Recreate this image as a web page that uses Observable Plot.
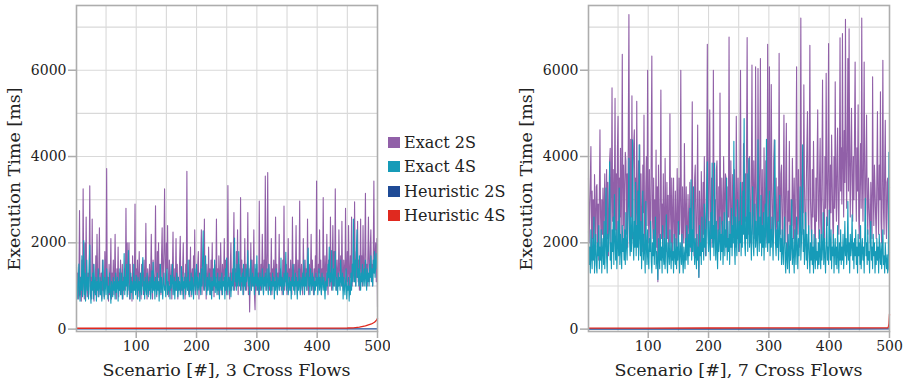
<!DOCTYPE html>
<html>
<head>
<meta charset="utf-8">
<script src="https://cdn.jsdelivr.net/npm/d3@7"></script>
<script src="https://cdn.jsdelivr.net/npm/@observablehq/plot@0.6"></script>
<style>
  html, body { margin: 0; padding: 0; background: #fff; }
  #wrap { position: relative; width: 905px; height: 385px; overflow: hidden; font-family: "DejaVu Serif", serif; color: #222; }
  #left, #right { position: absolute; top: 0; }
  #left { left: 0; }
  #right { left: 512px; }
  #legend { position: absolute; left: 388px; top: 130px; font-size: 16px; }
  .row { display: flex; align-items: center; height: 24.5px; }
  .sw { width: 12px; height: 11px; margin-right: 4px; }
</style>
</head>
<body>
<div id="wrap">
  <div id="left"></div>
  <div id="legend"></div>
  <div id="right"></div>
</div>
<script>
// ---- categories / labels ----
const seriesNames = ["Exact 2S", "Exact 4S", "Heuristic 2S", "Heuristic 4S"];
const seriesColors = ["#9160a8", "#169bb8", "#1f4b96", "#e0291f"];
const xTicks = [100, 200, 300, 400, 500];
const xGridLines = [50, 100, 150, 200, 250, 300, 350, 400, 450];
const yTicks = [0, 2000, 4000, 6000];
const yGridLines = [1000, 2000, 3000, 4000, 5000, 6000, 7000];
const yLabel = "Execution Time [ms]";
const xLabelLeft = "Scenario [#], 3 Cross Flows";
const xLabelRight = "Scenario [#], 7 Cross Flows";
const FONT = "'DejaVu Serif', serif";

// ---- left panel (3 cross flows), scenario 1..500, ms ----
const leftExact2S = [
1500,900,1300,700,1100,2750,800,1200,650,1600,900,3250,1100,700,2000,850,2600,1000,750,1300,
900,1400,3320,800,1200,700,2550,1000,1500,650,1100,850,1700,900,2200,1200,750,1400,2350,800,
1000,1300,700,1600,900,1100,750,1800,1000,1400,3720,900,1200,650,1500,800,1100,2100,700,1300,
1000,1600,800,1200,2200,900,700,1400,1000,1900,750,1300,900,1600,1100,800,1500,700,1200,1000,
1400,900,2800,1100,2000,800,1300,2000,700,1500,1000,1200,650,1700,900,1300,1100,2900,800,1400,
1000,1600,750,1200,1800,900,1100,700,1500,1000,1300,800,1600,900,1200,2450,1000,700,1400,1100,
900,1500,800,1300,2200,1000,700,1600,1100,900,1400,2860,1000,750,1800,1200,2000,900,1500,1100,
800,1700,2350,1000,1300,1900,3250,1200,900,2000,1400,2400,1000,750,1600,1100,900,1500,700,1300,
2250,1000,800,1400,1100,2100,900,1500,700,1200,1000,1600,2150,900,1300,800,1400,2000,1000,1200,
700,1500,1100,3660,900,1300,800,1600,1000,1900,750,1200,1400,900,1700,1000,2300,800,1300,1100,
900,1500,1800,700,1200,1000,1600,2300,800,1400,1100,900,2550,1000,1300,700,1500,1100,900,1900,
1000,1400,800,1600,1100,2000,900,1300,750,1500,1000,1200,2550,900,1400,800,1700,1100,900,2000,
1200,800,1500,1000,1300,2100,900,1600,1100,800,1400,3330,1000,1200,700,1500,2000,900,1300,1100,
1600,2700,900,1400,1000,1800,1200,2300,800,1500,1100,1300,3050,900,1600,1000,1400,800,1200,2100,
1000,1500,900,1300,2700,800,1400,400,1100,2000,900,1600,1000,1200,2300,800,450,1400,900,1500,
1000,1300,800,2970,1200,900,1500,1000,2200,1400,800,1600,1100,3550,1300,900,1800,3630,1000,1500,
900,1300,1100,2100,800,1400,1000,1600,900,1200,2600,1000,1500,800,1300,1100,2200,900,1400,1000,
1200,800,1600,1000,2850,900,1300,1100,1500,800,1200,2100,1000,1400,900,1600,1100,800,2600,1200,
1000,1500,900,1300,2400,1100,800,1600,1000,1400,2970,900,1200,1500,1000,800,2100,1300,900,1600,
1100,1400,900,2550,1200,800,1500,1000,1300,2200,900,1600,1100,800,1400,1000,1700,1200,3430,1100,
900,1500,1300,2300,1000,1600,800,1400,1100,3050,1200,900,1700,1000,1400,2200,1100,800,1600,1300,
1000,2600,1200,900,1500,2400,1100,1800,1000,3250,1300,900,1600,1200,1000,2300,1400,1100,1700,1000,
2500,1200,900,1600,1300,1000,2800,1400,1100,1800,1000,2400,1300,900,1700,1200,2600,1000,1500,1300,
1100,2950,1400,1000,1800,1200,2500,1100,1600,900,1400,2550,1200,1700,1000,2400,1300,1100,1800,3150,
1200,1500,1000,1700,2600,1300,1100,1900,2300,1200,1500,1000,1800,3430,1300,1600,2000,1100,2100,500
];
const leftExact4S = [
1450,900,700,1100,1510,800,650,1200,900,1700,750,1100,2050,800,1300,650,1000,1600,900,1200,
700,1400,1950,850,600,1100,900,1300,700,1500,1000,800,1200,650,1100,900,1400,750,1000,1200,
800,1100,650,1300,1600,900,700,1200,1000,800,1400,1100,700,1000,850,1300,900,600,1100,1000,
750,1200,900,1100,700,1300,850,1000,1200,650,1100,900,1400,800,1000,1300,700,1100,900,1750,
800,1200,1000,1500,750,1100,1820,900,1000,700,1300,850,1100,950,700,1500,900,1100,800,1250,
1000,700,1200,900,1100,650,1300,1000,800,1400,1660,900,1100,700,1200,950,800,1300,1000,750,
1100,900,1200,700,1000,1350,850,1550,900,1100,700,1200,1000,800,1300,900,1100,650,1000,1500,
850,1200,950,700,1100,1300,900,1000,750,1200,1400,800,1100,900,1000,700,1250,950,1100,1500,
800,1000,1200,700,1100,900,1300,1000,750,1200,900,1100,800,1000,1450,900,1200,700,1100,950,
1300,800,1000,1200,900,1600,1000,750,1100,900,1300,800,1200,1000,700,1100,1400,900,1100,1500,
800,1200,1000,900,1300,1100,800,1400,1000,1600,2280,1200,900,1300,1700,1000,800,1200,900,1100,
1300,800,1000,1200,700,1100,900,1400,1000,1600,850,1200,1000,800,1300,900,1100,700,1200,1000,
900,1300,800,1100,1000,1200,700,1400,900,1650,1000,800,1200,1100,900,1300,750,1100,1000,1400,
900,1700,2110,1100,1300,900,1500,1000,1200,1800,1000,1400,900,1200,1100,1300,800,1500,1000,1200,
900,1400,1100,1300,1820,1000,1200,800,1400,1600,900,1100,1300,1000,1200,800,1500,1100,1000,1700,
900,1200,1100,800,1300,1000,1200,900,1400,1100,800,1200,1000,1300,900,1100,1400,1000,800,1500,
1000,1200,800,1100,900,1300,1000,1200,700,1100,900,1400,1000,800,1200,1100,900,1300,1000,1650,
900,1200,1100,800,1300,1000,1200,1780,900,1100,1300,800,1000,1200,900,1100,700,1200,1000,1500,
900,1100,800,1300,1000,1200,700,1100,900,1400,1000,800,1200,1100,900,1300,1000,1600,800,1200,
1000,1300,900,1500,1880,1000,1200,800,1400,1100,900,1300,1000,1200,800,1100,900,1300,1000,1200,
800,1100,1400,900,1200,1000,800,1300,1100,900,1200,1000,700,1100,900,1300,1000,1500,1200,1900,
1000,1300,1100,1820,1200,900,1400,1000,1300,1800,900,1200,1100,800,1300,1000,1200,900,1600,1100,
1000,1300,700,1200,1000,800,1100,1400,700,1000,900,1200,650,1000,800,1300,900,1500,1100,2550,
1400,1100,1600,1000,1800,2300,1200,1400,1000,1700,1200,900,1300,1100,1500,1000,1200,1400,1000,1600,
1200,900,1400,1100,1300,1000,1500,1200,1700,1100,1400,1000,1600,1300,1800,1200,1500,1750,1400,1600
];
const leftHeur2SX = [1, 100, 200, 300, 400, 500];
const leftHeur2S = [4, 4, 4, 4, 4, 5];
const leftHeur4SX = [1, 100, 200, 300, 400, 450, 460, 470, 480, 490, 495, 498, 500];
const leftHeur4S = [20, 20, 22, 22, 24, 26, 30, 45, 75, 120, 160, 200, 250];

// ---- right panel (7 cross flows), scenario 1..500, ms ----
const rightExact2S = [
3500,2000,2800,3420,4230,1600,3200,2100,3000,1700,3580,2600,1900,3300,3350,2000,2900,1600,3100,4620,
2600,1900,3000,2200,3270,1800,2900,3600,2000,2800,3700,2100,3400,1700,2500,3900,4190,2000,3100,5590,
2500,3700,2000,3300,5350,2300,3600,1900,4200,4930,2200,3500,2600,4190,2000,3400,6370,2400,3800,1800,
3300,4100,3900,2200,3600,1900,4500,7290,3000,2300,4400,2600,5410,2100,3700,4300,4620,2400,3500,2200,
5280,2700,2000,3900,3000,4270,2100,3600,2500,1800,3800,2700,4960,2200,1900,3300,4000,2400,6000,3000,
2000,3700,2500,1800,4200,6330,2600,2100,3500,1700,3000,2200,4150,1900,3300,1100,3800,2400,1800,3100,
5540,2100,2900,1700,3600,2300,1900,3960,2600,1800,3400,2100,3100,1700,2500,4990,2700,2000,3500,1800,
2600,3500,2100,1700,3200,2300,1900,3720,2600,1800,3500,2200,3000,6000,2400,1700,3300,2300,2000,4300,
2700,1900,3300,2200,1700,3120,2500,2000,3400,2300,1800,3000,5270,2100,2800,1700,3500,3800,2300,1800,
3000,4730,2200,1200,3200,2400,1900,3650,2600,1800,3400,2200,4000,2700,1700,2500,3600,6600,2800,2000,
3800,5080,2600,1900,3500,2300,2000,6000,3200,2200,3000,1900,3700,3900,2500,1800,3300,2300,5470,2800,
2100,3500,2500,1900,4000,3000,2200,3600,3500,2300,1800,3300,2600,6770,3000,2100,3900,2500,1900,3580,
2800,2200,3700,2400,1900,4930,3000,2100,3500,2500,1800,3800,6000,2800,2200,3400,2400,4300,3000,2100,
3600,2500,4200,6760,3100,2200,3900,4000,2700,2000,3500,6120,3000,2200,3900,2700,2100,6080,3400,2500,
2000,6040,3200,2400,4000,6270,2800,2100,3700,2500,1900,4200,3000,2200,3900,2600,2000,6600,3200,2400,
6080,2800,2100,5670,3400,2500,2000,3900,4390,2600,2100,3500,2400,1900,3300,2500,6390,3000,2200,3600,
3800,2400,1800,3300,4960,2600,2000,3500,4770,2400,1700,3200,2500,4350,2200,1600,3000,2400,3960,3000,
2100,3500,2500,1800,3800,6080,2800,2200,3700,2600,1900,3400,7210,3000,2200,3900,2700,5660,3400,2400,
2000,3300,4200,5040,2800,2200,3900,6580,3000,2400,1900,3700,2600,4350,3200,2200,1700,3500,2500,3900,
5080,2800,2100,3500,4420,2500,2000,3800,5770,3000,2400,1900,4000,2800,5930,3400,2400,3700,6620,3000,
2200,3800,2700,4500,3500,2400,2000,4000,2800,5730,3300,2500,3900,4660,2800,2200,3700,6750,3200,4200,
2900,6850,3800,2600,4600,3400,7180,3900,2800,4400,6270,3200,6960,3800,2600,4100,5120,3400,2500,4000,
3000,4500,6190,3600,2500,4200,3200,5200,2600,2100,3700,4300,2800,7210,3500,2500,4000,6190,3200,2400,
3800,4960,2800,2200,3500,2960,2500,2000,3400,2700,2100,5850,3200,2400,3800,3270,2600,2100,3500,5040,
2900,2200,3800,3000,5500,2500,2000,3500,6230,2800,2200,3700,4840,2600,2100,3400,3500,2500,1800,3300
];
const rightExact4S = [
2270,1500,1900,1300,2300,1700,1400,2100,1600,2600,1300,1800,2200,1500,1300,2000,1700,2400,1400,1900,
1600,2300,1300,1800,2100,1500,2500,1400,1900,3270,1700,1300,2200,1800,2400,3880,1600,2000,1400,2300,
1800,2600,1500,3120,2100,1600,2300,1400,1900,2500,1700,3270,1500,2200,1900,1400,2400,1800,2100,1600,
2300,1500,2700,1900,1600,2400,3000,3960,2100,1700,2600,1800,2200,4390,2000,1600,2500,1900,3400,1700,
2400,1900,3200,1600,4270,2100,1700,2500,1400,2000,3200,1600,2200,1800,1300,2960,1900,1500,2300,1700,
1400,2100,1800,2500,1600,1300,2000,1700,2300,1500,1900,2600,1400,1800,1600,1150,2100,1700,1400,2200,
1600,1900,1300,2400,1700,1500,2100,1400,1900,2650,1600,1300,2000,1800,1500,2300,1700,1400,2000,1600,
1800,1300,2200,1700,1500,2100,1400,1900,1600,2500,1700,1300,2000,1800,1500,2200,1600,1300,1900,1700,
1400,2100,1600,2400,1800,1500,2200,1700,2800,1900,3460,1600,2300,1800,3300,2000,1500,2100,1700,1400,
2200,1600,1900,1200,2400,1700,2000,1500,2600,1800,2100,1600,2900,1900,2300,1700,3200,3880,2200,1800,
2500,2000,1600,2700,2100,3850,1900,2400,1700,3850,2100,1600,2500,1900,1400,2300,1800,2100,2600,1600,
2200,1800,2500,1500,2000,2700,1700,2300,1900,3500,1600,2100,1800,2500,1500,2200,1900,2800,1700,2400,
2000,4350,1900,1500,2600,2100,1700,3000,2300,1800,2500,2000,3400,1700,2400,1900,3200,2200,4880,2000,
1700,2600,2100,3600,1800,2400,3960,1900,2700,2200,1600,2500,3300,2000,1700,2300,2900,1900,2500,2100,
1700,4390,2200,1800,2600,2000,3100,1700,2400,1900,2700,1600,2200,2900,1900,4400,2300,1800,2600,2000,
3200,1700,2300,1900,2600,2100,1600,2400,2900,4380,2000,1700,2300,1900,2500,1600,2200,3100,1800,2100,
1500,2300,1800,1500,2100,2600,1600,1300,2000,1700,1400,2200,1800,1300,2400,1600,1900,3000,1500,2100,
1700,1300,2300,1800,1500,2600,1900,1400,2100,1700,2400,3300,1600,2000,2500,4270,1800,2300,1500,2000,
2700,1600,2200,1400,1900,2400,1700,1300,2000,1600,2300,1500,1900,1300,2200,1700,1400,2100,1600,1800,
1400,2000,1500,2300,1700,1400,2200,1600,1900,2700,1500,2100,1700,1300,2000,2600,1600,1900,1500,2760,
2000,1600,2300,1400,1900,1700,2200,1300,1800,2100,1500,1900,1400,2400,1700,1300,2000,1600,2300,1500,
1900,1600,2200,1400,1800,2500,1700,2100,1500,1800,2960,1600,2000,1300,2200,1700,1900,2650,1600,2000,
1400,2100,1700,2300,1500,1900,1300,2200,1700,2000,1500,2400,1400,1800,2100,1600,1900,1300,2200,3030,
1700,2000,1500,2300,1600,1800,1300,2100,2500,1600,1900,1400,2200,1700,2000,1300,1800,1500,2100,1600,
1900,1300,2200,1700,1500,2000,1400,1800,2300,1500,1700,1300,2000,1600,1400,1720,1300,1400,4100,1700
];
const rightHeur2SX = [1, 100, 200, 300, 400, 500];
const rightHeur2S = [3, 3, 3, 3, 3, 4];
const rightHeur4SX = [1, 100, 200, 300, 400, 490, 497, 498, 499, 500];
const rightHeur4S = [25, 25, 26, 27, 28, 30, 32, 40, 120, 350];

// ---- build tables ----
function seq(values) { return values.map((v, i) => ({x: i + 1, y: v})); }
function pairs(xs, ys) { return xs.map((x, i) => ({x, y: ys[i]})); }

function panel(cfg) {
  const svg = Plot.plot({
    width: cfg.width,
    height: 385,
    marginLeft: 76,
    marginRight: cfg.marginRight,
    marginTop: 5,
    marginBottom: 54,
    x: {domain: [1, 500]},
    y: {domain: [-55, 7500]},
    style: {fontFamily: FONT, fontSize: "14px", color: "#222", background: "transparent"},
    marks: [
      Plot.gridX(xGridLines, {stroke: "#d9d9d9", strokeOpacity: 1, strokeWidth: 1.1}),
      Plot.gridY(yGridLines, {stroke: "#d9d9d9", strokeOpacity: 1, strokeWidth: 1.1}),
      Plot.lineY(seq(cfg.e2), {x: "x", y: "y", stroke: seriesColors[0], strokeWidth: 1.1}),
      Plot.lineY(seq(cfg.e4), {x: "x", y: "y", stroke: seriesColors[1], strokeWidth: 1.1}),
      Plot.lineY(pairs(cfg.h2x, cfg.h2), {x: "x", y: "y", stroke: seriesColors[2], strokeWidth: 1.3}),
      Plot.lineY(pairs(cfg.h4x, cfg.h4), {x: "x", y: "y", stroke: seriesColors[3], strokeWidth: 1.3}),
      Plot.frame({stroke: "#adadad", strokeWidth: 1.6}),
      Plot.axisX(xTicks, {tickSize: 7, tickPadding: 3, stroke: "#adadad", strokeWidth: 1.5, label: null, tickFormat: d => String(d), fontSize: 14}),
      Plot.axisY(yTicks, {tickSize: 8, tickPadding: 2, stroke: "#adadad", strokeWidth: 1.5, label: null, tickFormat: d => String(d), fontSize: 14})
    ]
  });
  const s = d3.select(svg);
  const cx = 76 + (cfg.width - 76 - cfg.marginRight) / 2;
  s.append("text")
    .attr("x", cx).attr("y", 376)
    .attr("text-anchor", "middle")
    .style("font-family", FONT)
    .style("font-size", "17.5px")
    .attr("fill", "#222")
    .text(cfg.xLabel);
  s.append("text")
    .attr("transform", "translate(20,179) rotate(-90)")
    .attr("text-anchor", "middle")
    .style("font-family", FONT)
    .style("font-size", "17.5px")
    .attr("fill", "#222")
    .text(yLabel);
  return svg;
}

document.getElementById("left").appendChild(panel({
  width: 390, marginRight: 13,
  e2: leftExact2S, e4: leftExact4S,
  h2x: leftHeur2SX, h2: leftHeur2S, h4x: leftHeur4SX, h4: leftHeur4S,
  xLabel: xLabelLeft
}));
document.getElementById("right").appendChild(panel({
  width: 393, marginRight: 16,
  e2: rightExact2S, e4: rightExact4S,
  h2x: rightHeur2SX, h2: rightHeur2S, h4x: rightHeur4SX, h4: rightHeur4S,
  xLabel: xLabelRight
}));

// ---- legend ----
const legend = d3.select("#legend");
seriesNames.forEach((name, i) => {
  const row = legend.append("div").attr("class", "row");
  row.append("div").attr("class", "sw").style("background", seriesColors[i]);
  row.append("span").text(name);
});
</script>
</body>
</html>
